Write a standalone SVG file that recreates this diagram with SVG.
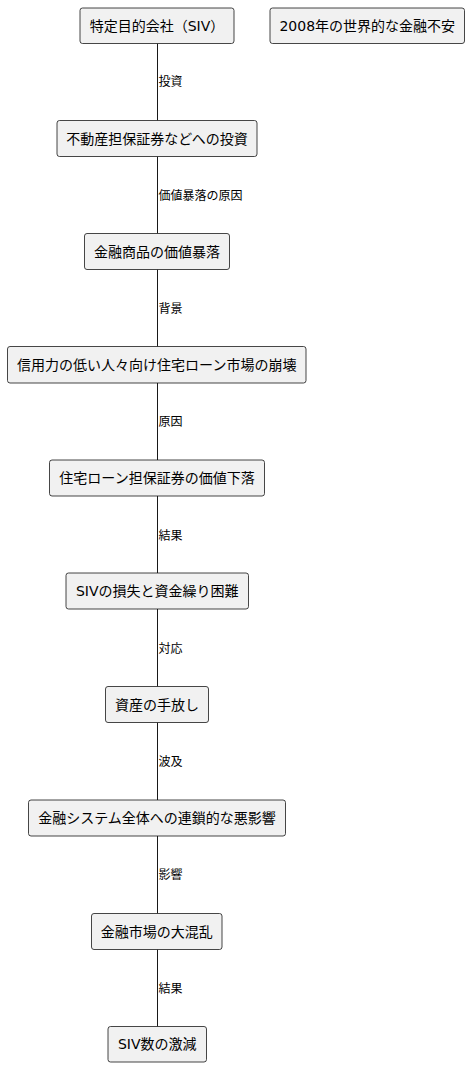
<svg xmlns="http://www.w3.org/2000/svg" width="469" height="1067" viewBox="0 0 469 1067">
<style>
.n rect{fill:#f1f1f1;stroke:#181818;stroke-width:0.8}
.n text{font-family:"DejaVu Sans","Noto Sans CJK JP",sans-serif;font-size:14px;fill:#000;text-anchor:middle;dominant-baseline:central}
.e line{stroke:#181818;stroke-width:1}
.e text{font-family:"DejaVu Sans","Noto Sans CJK JP",sans-serif;font-size:12px;fill:#000;dominant-baseline:central}
</style>
<rect width="469" height="1067" fill="#fff"/>
<g class="e" id="connectors">
<line x1="157.5" y1="43.5" x2="157.5" y2="120.5"/><text x="158.5" y="82">投資</text>
<line x1="157.5" y1="156.5" x2="157.5" y2="233.5"/><text x="158.5" y="196">価値暴落の原因</text>
<line x1="157.5" y1="269.5" x2="157.5" y2="346.5"/><text x="158.5" y="309">背景</text>
<line x1="157.5" y1="383" x2="157.5" y2="460"/><text x="158.5" y="422">原因</text>
<line x1="157.5" y1="496" x2="157.5" y2="573"/><text x="158.5" y="536">結果</text>
<line x1="157.5" y1="609" x2="157.5" y2="686.5"/><text x="158.5" y="649">対応</text>
<line x1="157.5" y1="722.5" x2="157.5" y2="800"/><text x="158.5" y="762">波及</text>
<line x1="157.5" y1="836" x2="157.5" y2="913.5"/><text x="158.5" y="875">影響</text>
<line x1="157.5" y1="949.5" x2="157.5" y2="1026.5"/><text x="158.5" y="989">結果</text>
</g>
<g class="n" id="n1"><rect x="80" y="8" width="154" height="35.5" rx="2.5"/><text x="157" y="25.75">特定目的会社（SIV）</text></g>
<g class="n" id="n0"><rect x="270" y="8" width="194.5" height="35.5" rx="2.5"/><text x="367.25" y="25.75">2008年の世界的な金融不安</text></g>
<g class="n" id="n2"><rect x="57" y="120.5" width="200" height="36" rx="2.5"/><text x="157" y="138.5">不動産担保証券などへの投資</text></g>
<g class="n" id="n3"><rect x="84.5" y="233.5" width="145" height="36" rx="2.5"/><text x="157" y="251.5">金融商品の価値暴落</text></g>
<g class="n" id="n4"><rect x="7.5" y="346.5" width="298.5" height="36.5" rx="2.5"/><text x="156.75" y="364.75">信用力の低い人々向け住宅ローン市場の崩壊</text></g>
<g class="n" id="n5"><rect x="49.5" y="460" width="215" height="36" rx="2.5"/><text x="157" y="478">住宅ローン担保証券の価値下落</text></g>
<g class="n" id="n6"><rect x="66" y="573" width="182.5" height="36" rx="2.5"/><text x="157.25" y="591">SIVの損失と資金繰り困難</text></g>
<g class="n" id="n7"><rect x="105.5" y="686.5" width="103" height="36" rx="2.5"/><text x="157" y="704.5">資産の手放し</text></g>
<g class="n" id="n8"><rect x="28.5" y="800" width="257" height="36" rx="2.5"/><text x="157" y="818">金融システム全体への連鎖的な悪影響</text></g>
<g class="n" id="n9"><rect x="91.5" y="913.5" width="130.5" height="36" rx="2.5"/><text x="156.75" y="931.5">金融市場の大混乱</text></g>
<g class="n" id="n10"><rect x="108" y="1026.5" width="98.5" height="35.5" rx="2.5"/><text x="157.25" y="1044.25">SIV数の激減</text></g>
</svg>
